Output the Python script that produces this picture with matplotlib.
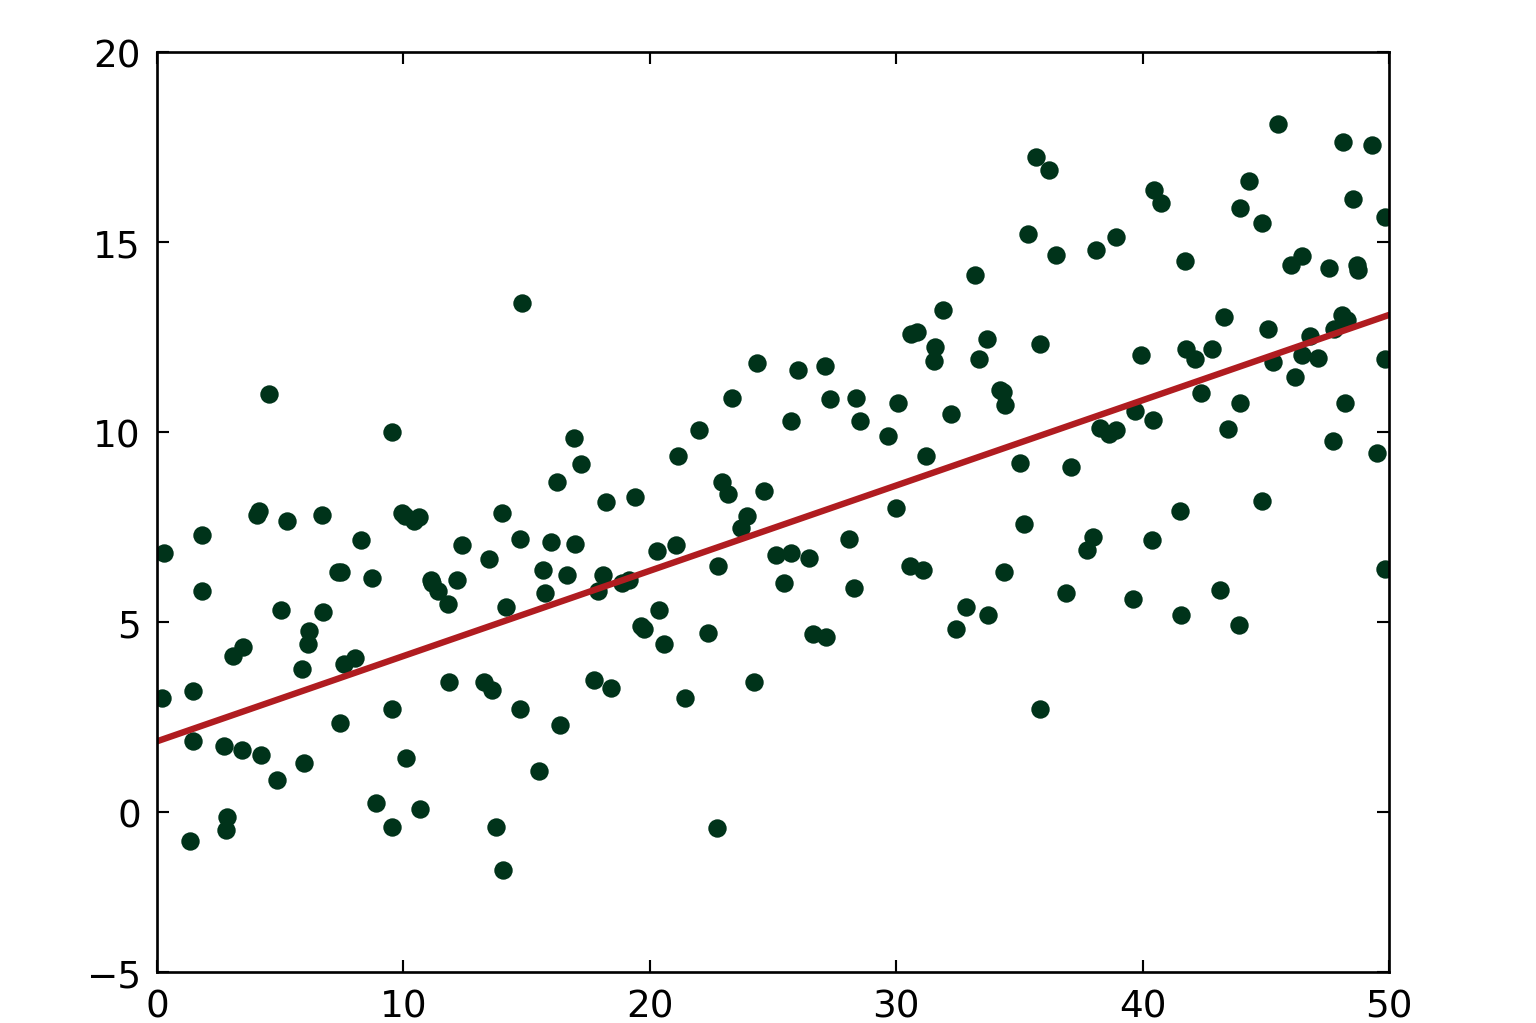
import numpy as np
import matplotlib
matplotlib.use('Agg')
import matplotlib.pyplot as plt

# ---------------
# Data
# ---------------
x_pts = [0.28, 0.20, 1.34, 1.46, 1.46, 1.83, 1.83, 2.72, 2.84, 2.80,
         3.08, 3.49, 3.45, 4.06, 4.14, 4.22, 4.55, 4.87, 5.03, 5.28,
         5.88, 5.97, 6.17, 6.13, 6.70, 6.74, 7.35, 7.47, 7.43, 7.59,
         8.04, 8.28, 8.73, 8.89, 9.53, 9.53, 9.53, 9.94, 10.06, 10.11,
         10.43, 10.63, 10.67, 11.12, 11.16, 11.40, 11.81, 11.85, 12.18, 12.38,
         13.27, 13.47, 13.60, 13.76, 14.00, 14.04, 14.16, 14.73, 14.73, 14.81,
         15.50, 15.67, 15.75, 15.99, 16.23, 16.36, 16.64, 16.92, 16.96, 17.21,
         17.74, 17.90, 18.10, 18.22, 18.43, 18.87, 19.16, 19.40, 19.64, 19.76,
         20.29, 20.37, 20.58, 21.06, 21.14, 21.43, 22.00, 22.36, 22.73, 22.77,
         22.93, 23.17, 23.34, 23.70, 23.94, 24.23, 24.35, 24.63, 25.12, 25.45,
         25.73, 25.73, 26.01, 26.46, 26.62, 27.11, 27.15, 27.31, 28.08, 28.29,
         28.37, 28.53, 29.67, 29.99, 30.07, 30.56, 30.60, 30.84, 31.09, 31.21,
         31.53, 31.57, 31.90, 32.22, 32.43, 32.83, 33.20, 33.36, 33.69, 33.73,
         34.21, 34.33, 34.42, 34.38, 35.02, 35.19, 35.35, 35.67, 35.84, 35.84,
         36.20, 36.49, 36.89, 37.09, 37.74, 37.99, 38.11, 38.27, 38.64, 38.92,
         38.92, 39.61, 39.69, 39.94, 40.38, 40.42, 40.46, 40.75, 41.52, 41.56,
         41.72, 41.76, 42.13, 42.37, 42.82, 43.14, 43.30, 43.47, 43.91, 43.95,
         43.95, 44.32, 44.85, 44.85, 45.09, 45.29, 45.50, 46.02, 46.19, 46.47,
         46.47, 46.79, 47.12, 47.56, 47.73, 47.77, 48.09, 48.13, 48.21, 48.30,
         48.54, 48.70, 48.74, 49.31, 49.51, 49.84, 49.84, 49.84]
y_pts = [6.81, 3.02, -0.74, 3.18, 1.87, 7.30, 5.81, 1.76, -0.13, -0.45,
         4.12, 4.34, 1.63, 7.83, 7.93, 1.52, 11.01, 0.84, 5.33, 7.65,
         3.78, 1.29, 4.76, 4.44, 7.83, 5.28, 6.31, 6.31, 2.36, 3.89,
         4.07, 7.15, 6.17, 0.24, 10.01, 2.73, -0.39, 7.86, 7.80, 1.42,
         7.65, 7.78, 0.08, 6.12, 6.02, 5.81, 5.49, 3.42, 6.10, 7.04,
         3.42, 6.67, 3.21, -0.39, 7.88, -1.50, 5.41, 2.73, 7.20, 13.40,
         1.08, 6.38, 5.78, 7.12, 8.70, 2.31, 6.25, 9.85, 7.07, 9.17,
         3.49, 5.83, 6.25, 8.17, 3.26, 6.04, 6.10, 8.30, 4.91, 4.81,
         6.88, 5.31, 4.44, 7.02, 9.38, 3.02, 10.06, 4.73, -0.42, 6.49,
         8.70, 8.36, 10.90, 7.49, 7.80, 3.42, 11.82, 8.46, 6.78, 6.02,
         10.30, 6.83, 11.64, 6.70, 4.68, 11.74, 4.62, 10.88, 7.20, 5.91,
         10.90, 10.30, 9.91, 8.01, 10.77, 6.49, 12.59, 12.64, 6.38, 9.38,
         11.88, 12.24, 13.22, 10.48, 4.81, 5.39, 14.14, 11.93, 12.45, 5.20,
         11.11, 11.06, 10.72, 6.33, 9.20, 7.59, 15.21, 17.24, 2.71, 12.32,
         16.89, 14.66, 5.78, 9.09, 6.91, 7.25, 14.79, 10.12, 9.96, 10.06,
         15.13, 5.60, 10.56, 12.03, 7.17, 10.33, 16.37, 16.03, 7.93, 5.18,
         14.50, 12.19, 11.93, 11.04, 12.19, 5.86, 13.03, 10.09, 4.94, 15.90,
         10.77, 16.61, 8.20, 15.50, 12.72, 11.85, 18.10, 14.40, 11.46, 14.63,
         12.03, 12.53, 11.95, 14.32, 9.77, 12.72, 13.08, 17.63, 10.77, 12.95,
         16.13, 14.40, 14.27, 17.55, 9.46, 15.66, 11.93, 6.41]

# fitted line, end points
line_x = [0, 50]
line_y = [1.87, 13.08]

x_ticks = [0, 10, 20, 30, 40, 50]
y_ticks = [-5, 0, 5, 10, 15, 20]

# the reference squeezes the bottom strip of the y axis (below about -1.5)
brk, squeeze = -1.5, 0.77


def fwd(v):
    v = np.asarray(v, dtype=float)
    return np.where(v >= brk, v, brk + (v - brk) * squeeze)


def inv(u):
    u = np.asarray(u, dtype=float)
    return np.where(u >= brk, u, brk + (u - brk) / squeeze)


plt.rcParams['font.family'] = 'DejaVu Sans'

fig = plt.figure(figsize=(8, 5.3333), dpi=192)
ax = fig.add_axes([0.1022, 0.0498, 0.9043 - 0.1022, 0.9485 - 0.0498])

ax.plot(x_pts, y_pts, 'o', color='#00331a', markersize=6.9,
        markeredgewidth=0)
ax.plot(line_x, line_y, '-', color='#b01c20', lw=2.4)

ax.set_yscale('function', functions=(fwd, inv))
ax.set_xlim(0, 50)
ax.set_ylim(-5, 20)
ax.set_xticks(x_ticks)
ax.set_yticks(y_ticks)
ax.tick_params(direction='in', top=True, right=True, length=4.5,
               width=0.8, labelsize=14, pad=6)
for s in ax.spines.values():
    s.set_linewidth(1.0)

fig.savefig('out.png', dpi=192, facecolor='white')
